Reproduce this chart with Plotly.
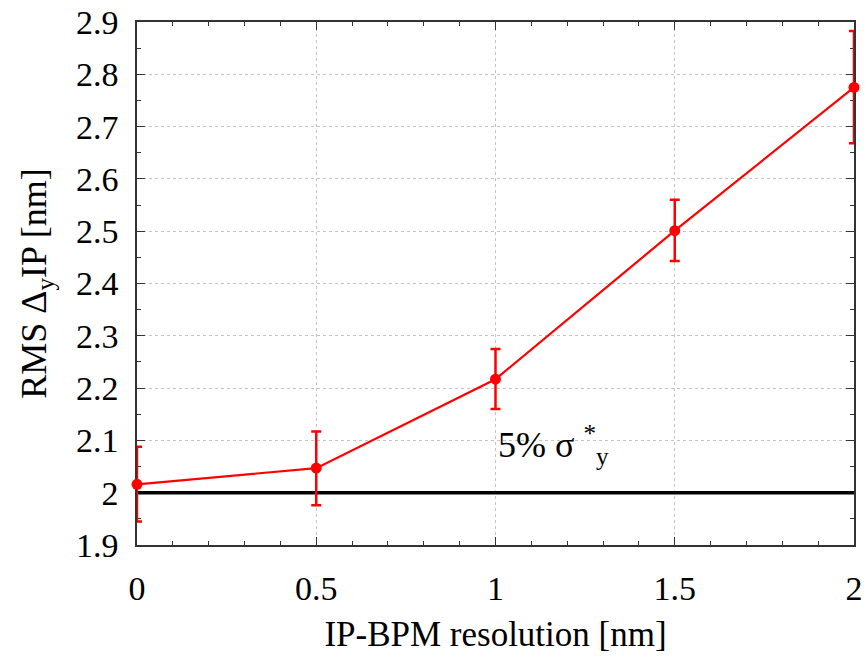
import plotly.graph_objects as go

resolution = [0, 0.5, 1, 1.5, 2]
rms_dy = [2.016, 2.047, 2.217, 2.501, 2.775]
err_plus = [0.072, 0.070, 0.058, 0.059, 0.108]
err_minus = [0.071, 0.071, 0.057, 0.058, 0.107]
ref_level = 2.0
x_ticks = [0, 0.5, 1, 1.5, 2]
y_ticks = [1.9, 2.0, 2.1, 2.2, 2.3, 2.4, 2.5, 2.6, 2.7, 2.8, 2.9]

font_family = "Liberation Serif, Times New Roman, serif"

fig = go.Figure()
fig.add_trace(go.Scatter(
    x=[0, 2], y=[ref_level, ref_level], mode="lines",
    line=dict(color="black", width=3.5), showlegend=False, hoverinfo="skip",
    cliponaxis=False,
))
fig.add_trace(go.Scatter(
    x=resolution, y=rms_dy, mode="lines+markers",
    line=dict(color="#ff0000", width=2.2),
    marker=dict(color="#ff0000", size=11),
    error_y=dict(type="data", symmetric=False, array=err_plus, arrayminus=err_minus,
                 color="#ff0000", thickness=2.5, width=5),
    showlegend=False, cliponaxis=False,
))

fig.add_annotation(
    x=1.0, y=2.04, xref="x", yref="y", xanchor="left", yanchor="bottom",
    text="5% σ <sup>*</sup><sub>y</sub>", showarrow=False,
    font=dict(family=font_family, size=36, color="black"),
)

axis_common = dict(
    showline=True, linecolor="#333333", linewidth=1.5, mirror="allticks",
    ticks="inside", ticklen=8, tickwidth=1, tickcolor="#333333",
    showgrid=True, gridcolor="#c4c4c4", griddash="dot", gridwidth=1,
    zeroline=False, layer="below traces",
    tickfont=dict(family=font_family, size=34, color="black"),
)

fig.update_xaxes(
    range=[0, 2], tickvals=x_ticks, ticktext=["0", "0.5", "1", "1.5", "2"],
    ticklabelstandoff=12,
    minor=dict(dtick=0.1, ticks="inside", ticklen=4, tickcolor="#333333", showgrid=False),
    title=dict(text="IP-BPM resolution [nm]", font=dict(family=font_family, size=35, color="black"), standoff=16),
    **axis_common,
)
fig.update_yaxes(
    range=[1.9, 2.9], tickvals=y_ticks,
    ticktext=["1.9", "2", "2.1", "2.2", "2.3", "2.4", "2.5", "2.6", "2.7", "2.8", "2.9"],
    ticklabelstandoff=10,
    minor=dict(dtick=0.05, ticks="inside", ticklen=4, tickcolor="#333333", showgrid=False),
    title=dict(text="RMS Δ<sub>y</sub>IP [nm]", font=dict(family=font_family, size=36, color="black"), standoff=18),
    **axis_common,
)

fig.update_layout(
    width=867, height=667,
    margin=dict(l=137, r=13, t=22, b=122, autoexpand=False),
    plot_bgcolor="white", paper_bgcolor="white",
)

fig.write_html("out.html")
